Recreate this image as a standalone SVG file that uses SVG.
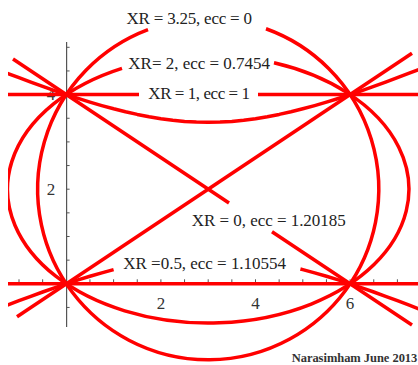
<svg xmlns="http://www.w3.org/2000/svg" width="418" height="365" viewBox="0 0 418 365">
<style>
.axis{stroke:#555;stroke-width:1.2;fill:none}
.tick{stroke:#555;stroke-width:1;fill:none}
.tl{font-family:"Liberation Serif","Times New Roman",serif;font-size:17px;fill:#333;text-anchor:middle}
.curve{stroke:#ff0000;stroke-width:3.5;fill:none;stroke-linejoin:round}
.lbl{font-family:"Liberation Serif","Times New Roman",serif;font-size:17px;fill:#222}
.sig{font-family:"Liberation Serif","Times New Roman",serif;font-size:12.5px;font-weight:bold;fill:#333}
</style>
<defs>
<clipPath id="plotclip"><rect x="8" y="0" width="410" height="365"/></clipPath>
</defs>
<rect width="418" height="365" fill="#ffffff"/>
<g id="axes">
<line class="axis" x1="66.6" y1="42" x2="66.6" y2="327"/>
<line class="axis" x1="8" y1="283.8" x2="418" y2="283.8"/>
<path class="tick" d="M66.6,307.45h3 M66.6,260.15h3 M66.6,236.5h3 M66.6,212.85h3 M66.6,189.2h3 M66.6,165.55h3 M66.6,141.9h3 M66.6,118.25h3 M66.6,94.6h3 M66.6,70.95h3 M66.6,47.3h3"/>
<path class="tick" d="M19,283.8v-4.5 M42.65,283.8v-4.5 M89.95,283.8v-4.5 M113.6,283.8v-4.5 M137.25,283.8v-4.5 M160.9,283.8v-4.5 M184.55,283.8v-4.5 M208.2,283.8v-4.5 M231.85,283.8v-4.5 M255.5,283.8v-4.5 M279.15,283.8v-4.5 M302.8,283.8v-4.5 M326.45,283.8v-4.5 M350.1,283.8v-4.5 M373.75,283.8v-4.5 M397.4,283.8v-4.5"/>
<text class="tl" x="51" y="195">2</text>
<text class="tl" x="51" y="100">4</text>
<text class="tl" x="160.9" y="309">2</text>
<text class="tl" x="255.5" y="309">4</text>
<text class="tl" x="350.1" y="309">6</text>
</g>
<g id="connectors" clip-path="url(#plotclip)">
<path id="circle" class="curve" d="M266,28.74 A170.55,170.55 0 1 1 148,29.63"/>
<path id="ellipse" class="curve" d="M274,62.79 A200.7,133.8 0 1 1 122,68.37"/>
<path id="lines-y4" class="curve" d="M8,94.6 H139 M258,94.6 H418"/>
<path id="lines-y0" class="curve" d="M8,283.8 H418"/>
<path id="diag1" class="curve" d="M13,59.07 L229,203.07 M272,231.74 L412,325.07"/>
<path id="diag2" class="curve" d="M17,316.67 L412,53.33"/>
<path id="hyp-upper" class="curve" d="M7.18,73.21 L19,77.71 L30.83,82.12 L42.65,86.41 L54.48,90.58 L66.3,94.6 L78.13,98.46 L89.95,102.13 L101.78,105.58 L113.6,108.81 L125.43,111.76 L137.25,114.41 L149.08,116.73 L160.9,118.69 L172.73,120.25 L184.55,121.39 L196.38,122.08 L208.2,122.31 L220.03,122.08 L231.85,121.39 L243.68,120.25 L255.5,118.69 L267.33,116.73 L279.15,114.41 L290.98,111.76 L302.8,108.81 L314.63,105.58 L326.45,102.13 L338.28,98.46 L350.1,94.6 L361.93,90.58 L373.75,86.41 L385.58,82.12 L397.4,77.71 L409.23,73.21 L421.05,68.61"/>
<path id="hyp-lower" class="curve" d="M7.18,305.2 L19,300.69 L30.83,296.28 L42.65,291.99 L54.48,287.82 L66.3,283.8 L78.13,279.94 L89.95,276.28 L101.78,272.82 L113.6,269.59 M300.4,268.98 L302.8,269.59 L314.63,272.82 L326.45,276.28 L338.28,279.94 L350.1,283.8 L361.93,287.82 L373.75,291.99 L385.58,296.28 L397.4,300.69 L409.23,305.2 L421.05,309.79"/>
</g>
<g id="labels">
<text id="lbl-circle" class="lbl" x="126.5" y="24" textLength="125.5">XR = 3.25, ecc = 0</text>
<text id="lbl-ellipse" class="lbl" x="128.3" y="69" textLength="141.7">XR= 2, ecc = 0.7454</text>
<text id="lbl-lines" class="lbl" x="148.3" y="98.5" textLength="101.7">XR = 1, ecc = 1</text>
<text id="lbl-diag" class="lbl" x="191.7" y="225.7" textLength="154">XR = 0, ecc = 1.20185</text>
<text id="lbl-hyp" class="lbl" x="123.3" y="269" textLength="162.7">XR =0.5, ecc = 1.10554</text>
<text id="sig" class="sig" x="291.7" y="361.7" textLength="125.6">Narasimham June 2013</text>
</g>
</svg>
